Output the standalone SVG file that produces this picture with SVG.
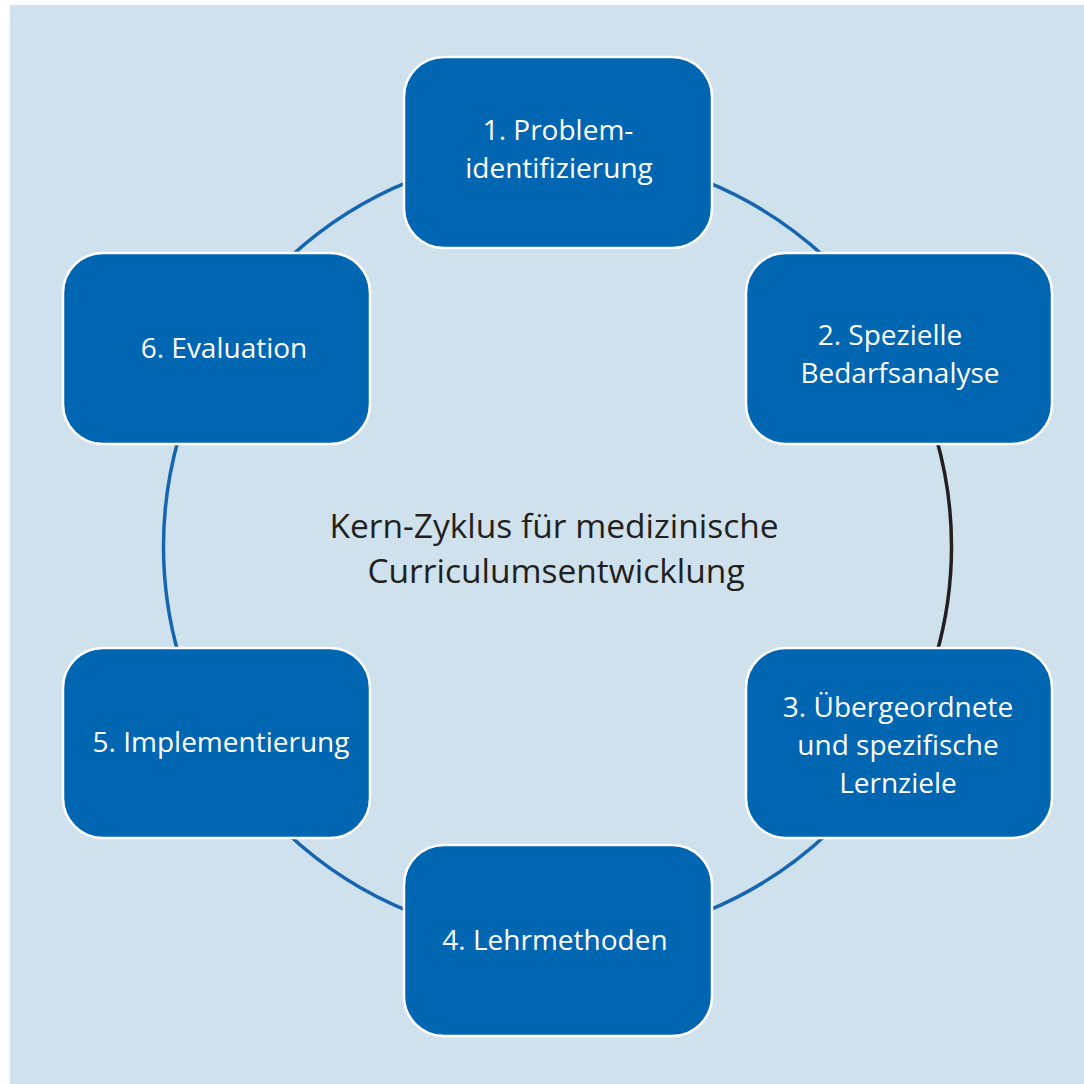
<svg xmlns="http://www.w3.org/2000/svg" width="1084" height="1084" viewBox="0 0 1084 1084">
<style>
.bg{fill:#cfe1ed}
.node rect{fill:#0066b1;stroke:#ffffff;stroke-width:2.5}
.node text{fill:#ffffff;font-family:"Open Sans","Noto Sans",sans-serif;font-size:28px;text-anchor:middle}
.arc{fill:none;stroke:#1565b0;stroke-width:3.5}
.arc.dark{stroke:#231f20}
.title{fill:#231f20;font-family:"Open Sans","Noto Sans",sans-serif;font-size:33.5px;text-anchor:middle}
</style>
<rect class="bg" x="10" y="5" width="1074" height="1079"/>
<g id="connectors">
<path class="arc" d="M287,260 A394,394 0 0 1 410,181.2"/>
<path class="arc" d="M705,181.2 A394,394 0 0 1 828,260"/>
<path class="arc dark" d="M936,437 A394,394 0 0 1 936,656"/>
<path class="arc" d="M828,833 A394,394 0 0 1 705,911.8"/>
<path class="arc" d="M410,911.8 A394,394 0 0 1 287,833"/>
<path class="arc" d="M179,656 A394,394 0 0 1 179,437"/>
</g>
<g id="center-label">
<text class="title" x="554" y="538">Kern-Zyklus für medizinische</text>
<text class="title" x="556" y="583">Curriculumsentwicklung</text>
</g>
<g id="node1" class="node">
<rect x="404" y="57" width="308" height="191" rx="40"/>
<text x="558" y="140">1. Problem-</text>
<text x="559" y="178">identifizierung</text>
</g>
<g id="node2" class="node">
<rect x="746" y="253" width="306" height="191" rx="40"/>
<text x="890" y="345">2. Spezielle</text>
<text x="900" y="383">Bedarfsanalyse</text>
</g>
<g id="node3" class="node">
<rect x="746" y="648" width="306" height="190" rx="40"/>
<text x="898" y="717">3. Übergeordnete</text>
<text x="898" y="755">und spezifische</text>
<text x="898" y="793">Lernziele</text>
</g>
<g id="node4" class="node">
<rect x="404" y="845" width="308" height="191" rx="40"/>
<text x="555" y="950">4. Lehrmethoden</text>
</g>
<g id="node5" class="node">
<rect x="63" y="648" width="307" height="190" rx="40"/>
<text x="221" y="752">5. Implementierung</text>
</g>
<g id="node6" class="node">
<rect x="63" y="253" width="307" height="191" rx="40"/>
<text x="224" y="358">6. Evaluation</text>
</g>
</svg>
